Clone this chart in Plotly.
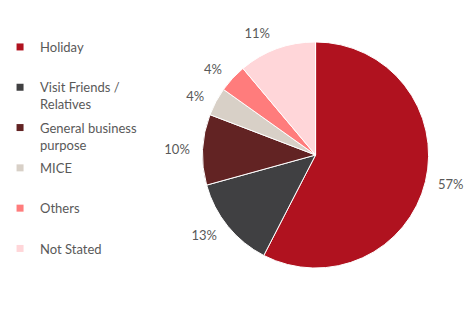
import plotly.graph_objects as go

labels = ["Holiday", "Visit Friends / Relatives", "General business purpose", "MICE", "Others", "Not Stated"]
legend_text = ["Holiday<br> ", "Visit Friends /<br>Relatives", "General business<br>purpose", "MICE<br> ", "Others<br> ", "Not Stated<br> "]
values = [57, 13, 10, 4, 4, 11]
colors = ["#B0121F", "#404042", "#622323", "#D8D0C7", "#FF7C7C", "#FFD6D9"]

W, H = 468, 311
cx, cy, r = 318, 155, 115
rl = r + 9  # radius of the (invisible) label ring

def dom(rad):
    return dict(x=[(cx - rad) / W, (cx + rad) / W], y=[(H - cy - rad) / H, (H - cy + rad) / H])

fig = go.Figure()
# label ring (transparent) so labels sit a little away from the pie
fig.add_trace(go.Pie(
    labels=labels, values=values, sort=False, direction="clockwise", rotation=0,
    marker=dict(colors=["rgba(0,0,0,0)"] * len(values), line=dict(width=0)),
    text=[f"{v}%" for v in values], texttemplate="%{text}", textinfo="text",
    textposition="outside", textfont=dict(family="Lato", size=13, color="#595959"),
    showlegend=False, hoverinfo="skip", domain=dom(rl),
))
fig.add_trace(go.Pie(
    labels=labels, values=values, sort=False, direction="clockwise", rotation=0,
    marker=dict(colors=colors, line=dict(color="white", width=1)),
    textinfo="none", showlegend=False, hoverinfo="label+value",
    domain=dom(r),
))
for name, col in zip(legend_text, colors):
    fig.add_trace(go.Scatter(
        x=[None], y=[None], mode="markers", name=name, legendgroup=name,
        marker=dict(symbol="square", size=7, color=col),
    ))

fig.update_layout(
    width=W, height=H, margin=dict(l=0, r=0, t=0, b=0),
    paper_bgcolor="white", plot_bgcolor="white",
    xaxis=dict(visible=False), yaxis=dict(visible=False),
    font=dict(family="Lato", size=13, color="#595959"),
    legend=dict(x=-3 / W, xanchor="left", y=1 - 32 / H, yanchor="top",
                valign="top", tracegroupgap=3.5, font=dict(family="Lato", size=13, color="#595959"),
                bgcolor="rgba(0,0,0,0)"),
)
fig.write_html("out.html")
